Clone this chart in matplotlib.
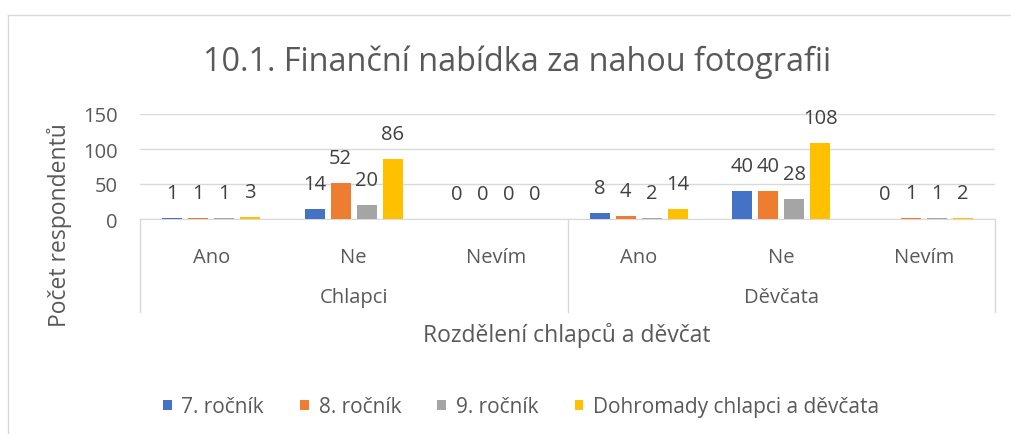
import matplotlib
matplotlib.use("Agg")
import matplotlib.pyplot as plt
import numpy as np
from matplotlib.transforms import blended_transform_factory
from matplotlib.patches import Patch

plt.rcParams['font.family'] = ['Open Sans', 'DejaVu Sans']

groups = ["Chlapci", "Děvčata"]
answers = ["Ano", "Ne", "Nevím"]
series = ["7. ročník", "8. ročník", "9. ročník", "Dohromady chlapci a děvčata"]
rocnik7 = [1, 14, 0, 8, 40, 0]
rocnik8 = [1, 52, 0, 4, 40, 1]
rocnik9 = [1, 20, 0, 2, 28, 1]
dohromady = [3, 86, 0, 14, 108, 2]
values = [rocnik7, rocnik8, rocnik9, dohromady]
colors = ["#4472C4", "#ED7D31", "#A5A5A5", "#FFC000"]
yticks = [0, 50, 100, 150]

W, H = 1011, 435
fig = plt.figure(figsize=(W / 100, H / 100), dpi=100)
ax = fig.add_axes([140 / W, 1 - 220 / H, 855 / W, 105 / H])

ncat = len(groups) * len(answers)
x = np.arange(ncat)
bw = 20 / 142.5
step = 26 / 142.5
offsets = (np.arange(4) - 1.5) * step
txtc = "#595959"
fs = 14.5
for i, (vals, c) in enumerate(zip(values, colors)):
    ax.bar(x + offsets[i], vals, width=bw, color=c, zorder=3, label=series[i])
    for xi, v in zip(x + offsets[i], vals):
        ax.annotate(str(v), (xi, v), xytext=(0, 18), textcoords="offset points",
                    ha="center", va="center", fontsize=fs, color="#404040")

ax.set_xlim(-0.5, ncat - 0.5)
ax.set_ylim(0, 150)
ax.set_yticks(yticks)
ax.tick_params(axis="y", length=0, pad=16, labelsize=fs, labelcolor=txtc)
ax.grid(axis="y", color="#D9D9D9", linewidth=1, zorder=0)
for s in ["top", "right", "left"]:
    ax.spines[s].set_visible(False)
ax.spines["bottom"].set_color("#D9D9D9")
ax.set_xticks(x)
ax.set_xticklabels(answers * len(groups))
ax.tick_params(axis="x", length=0, pad=20, labelsize=fs, labelcolor=txtc)

# group labels and separators
trans = blended_transform_factory(ax.transData, fig.transFigure)
for gi, g in enumerate(groups):
    cx = gi * len(answers) + (len(answers) - 1) / 2
    ax.text(cx, 1 - 298 / H, g, transform=trans, ha="center", va="center",
            fontsize=fs, color=txtc)
for b in [-0.5, 2.5, 5.5]:
    ax.plot([b, b], [1 - 220 / H, 1 - 313 / H], transform=trans, color="#D9D9D9",
            linewidth=1, clip_on=False)

fig.text(567 / W, 1 - 336 / H, "Rozdělení chlapců a děvčat", ha="center", va="center",
         fontsize=16.5, color=txtc)
fig.text(59 / W, 1 - 225 / H, "Počet respondentů", ha="center", va="center",
         rotation=90, fontsize=16.5, color=txtc)
fig.text(517 / W, 1 - 62 / H, "10.1. Finanční nabídka za nahou fotografii", ha="center",
         va="center", fontsize=23.3, color=txtc)

handles = [Patch(facecolor=c, label=s) for c, s in zip(colors, series)]
fig.legend(handles=handles, loc="center", bbox_to_anchor=(521 / W, 1 - 408 / H), ncol=4,
           frameon=False, fontsize=15, labelcolor=txtc, handlelength=0.42, handleheight=0.42,
           handletextpad=0.45, columnspacing=1.75)

# outer frame (top and left visible)
fig.add_artist(plt.Line2D([8 / W, 1], [1 - 16 / H, 1 - 16 / H], color="#D9D9D9", linewidth=1))
fig.add_artist(plt.Line2D([8 / W, 8 / W], [0, 1 - 16 / H], color="#D9D9D9", linewidth=1))

fig.savefig("out.png", dpi=100, facecolor="white")
